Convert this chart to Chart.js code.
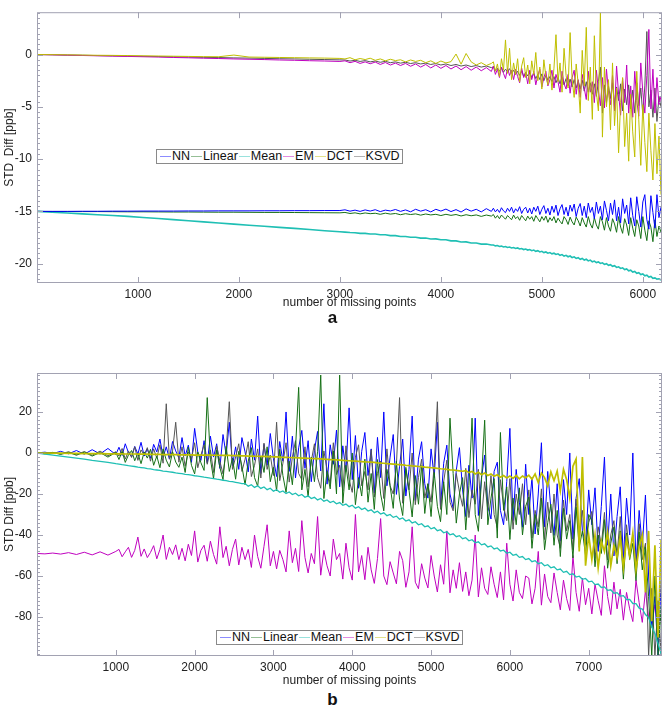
<!DOCTYPE html>
<html>
<head>
<meta charset="utf-8">
<script src="https://cdn.jsdelivr.net/npm/chart.js@4.4.0/dist/chart.umd.min.js"></script>
<style>
  body { margin:0; background:#fff; width:665px; height:710px; position:relative; overflow:hidden;
         font-family:"Liberation Sans", Arial, sans-serif; }
  .panel { position:absolute; left:0; width:665px; }
  #boxA { top:0; height:312px; }
  #boxB { top:340px; height:350px; }
  .tag { position:absolute; left:0; width:665px; text-align:center; font-weight:bold; font-size:17px; line-height:20px; color:#111; }
  .legend { position:absolute; border:1px solid #8a8a8a; background:#fff; font-size:12.5px; line-height:13px;
            padding:0 2px; white-space:nowrap; color:#111; }
  .legend i { display:inline-block; width:11px; height:1px; vertical-align:middle; margin:0 1px 0 1px; }
</style>
</head>
<body>
<div class="panel" id="boxA"><canvas id="chartA"></canvas></div>
<div class="panel" id="boxB"><canvas id="chartB"></canvas></div>
<div class="legend" id="legA" style="left:156px;top:149px"></div>
<div class="legend" id="legB" style="left:216px;top:630px"></div>
<div class="tag" style="top:308px">a</div>
<div class="tag" style="top:690px">b</div>
<script>
// series names and colours (same for both panels)
const names = ['NN', 'Linear', 'Mean', 'EM', 'DCT', 'KSVD'];
const colors = ['#0000ff', '#167016', '#1fbfb4', '#bf00bf', '#bfbf00', '#555555'];

// tick labels
const xTicksA = [1000, 2000, 3000, 4000, 5000, 6000];
const yTicksA = [0, -5, -10, -15, -20];
const xTicksB = [1000, 2000, 3000, 4000, 5000, 6000, 7000];
const yTicksB = [20, 0, -20, -40, -60, -80];

// ---- panel a : number of missing points
const xsA = [0,150,300,450,600,750,900,1050,1200,1350,1500,1650,1800,1950,2100,2250,2400,2550,2700,2850,3000,
  3050,3100,3150,3200,3250,3300,3350,3400,3450,3500,
  3550,3600,3650,3700,3750,3800,3850,3900,3950,4000,
  4050,4100,4150,4200,4250,4300,4350,4400,4450,4500,
  4520,4540,4560,4580,4600,4620,4640,4660,4680,4700,
  4720,4740,4760,4780,4800,4820,4840,4860,4880,4900,
  4920,4940,4960,4980,5000,5020,5040,5060,5080,5100,
  5120,5140,5160,5180,5200,5220,5240,5260,5280,5300,
  5320,5340,5360,5380,5400,5420,5440,5460,5480,5500,
  5520,5540,5560,5580,5600,5620,5640,5660,5680,5700,
  5720,5740,5760,5780,5800,5820,5840,5860,5880,5900,
  5920,5940,5960,5980,6000,6020,6040,6060,6080,6100,
  6120,6140,6160,6180];

const aNN = [-15,-15,-15,-14.99,-14.99,-14.98,-14.98,-14.97,-14.97,-14.97,-14.96,-14.96,-14.95,-14.95,-14.95,-14.94,-14.94,-14.93,-14.93,-14.92,-14.92,
  -14.85,-14.98,-14.88,-15.0,-14.86,-14.97,-14.84,-15.02,-14.88,-14.96,
  -14.82,-15.0,-14.86,-15.04,-14.8,-14.98,-14.84,-15.05,-14.8,-14.97,
  -14.78,-15.02,-14.83,-15.06,-14.76,-14.98,-14.8,-15.05,-14.74,-15.0,
  -14.7,-15.05,-14.8,-15.1,-14.65,-14.95,-15.12,-14.7,-15.0,-14.6,
  -15.15,-14.75,-15.0,-14.55,-15.2,-14.8,-14.6,-15.15,-14.7,-15.25,
  -14.6,-15.0,-14.5,-15.3,-14.8,-14.45,-15.2,-14.7,-15.35,-14.5,
  -15.1,-14.4,-15.4,-14.75,-14.35,-15.3,-14.6,-15.45,-14.4,-15.0,
  -14.3,-15.5,-14.7,-14.25,-15.4,-14.5,-15.6,-14.2,-15.1,-14.6,
  -15.7,-14.1,-15.2,-14.5,-15.8,-14.0,-14.9,-15.9,-14.2,-15.3,
  -13.9,-15.9,-14.6,-16.1,-13.8,-15.2,-14.4,-16.2,-13.7,-15.4,
  -16.4,-13.6,-15.0,-16.5,-14.1,-13.4,-15.8,-16.7,-13.5,-15.1,
  -16.6,-13.4,-15.6,-14.6];
const aLinear = [-15,-15.01,-15.01,-15.02,-15.02,-15.03,-15.04,-15.04,-15.05,-15.06,-15.06,-15.07,-15.08,-15.08,-15.09,-15.1,-15.1,-15.11,-15.12,-15.13,-15.14,
  -15.1,-15.2,-15.14,-15.24,-15.15,-15.22,-15.18,-15.28,-15.17,-15.26,
  -15.2,-15.32,-15.22,-15.3,-15.24,-15.36,-15.25,-15.34,-15.28,-15.4,
  -15.28,-15.38,-15.3,-15.44,-15.32,-15.42,-15.34,-15.48,-15.35,-15.45,
  -15.3,-15.65,-15.4,-15.7,-15.35,-15.55,-15.75,-15.4,-15.6,-15.8,
  -15.35,-15.7,-15.5,-15.85,-15.4,-15.65,-15.9,-15.45,-15.75,-15.5,
  -15.95,-15.4,-15.7,-16.0,-15.5,-15.85,-15.45,-16.05,-15.6,-15.9,
  -15.5,-16.1,-15.65,-15.95,-16.2,-15.5,-15.8,-16.25,-15.55,-16.0,
  -16.3,-15.55,-15.9,-16.4,-15.6,-16.1,-16.5,-15.5,-16.2,-16.6,
  -15.6,-16.3,-16.7,-15.5,-16.0,-16.8,-15.6,-16.4,-16.9,-15.7,
  -16.2,-17.0,-15.5,-16.5,-17.1,-15.7,-16.3,-17.3,-15.6,-16.6,
  -17.4,-15.8,-16.4,-17.6,-15.5,-16.8,-17.8,-15.9,-16.5,-17.9,
  -15.8,-17.4,-16.4,-17.0];
const aMean = [-15,-15.08,-15.16,-15.24,-15.32,-15.4,-15.48,-15.58,-15.68,-15.79,-15.9,-16.0,-16.11,-16.22,-16.32,-16.42,-16.53,-16.63,-16.74,-16.85,-16.95,
  -16.98,-17.02,-17.04,-17.1,-17.1,-17.17,-17.17,-17.24,-17.24,-17.32,
  -17.32,-17.4,-17.4,-17.48,-17.47,-17.56,-17.55,-17.64,-17.63,-17.72,
  -17.72,-17.82,-17.82,-17.93,-17.92,-18.03,-18.02,-18.13,-18.12,-18.22,
  -18.22,-18.3,-18.27,-18.36,-18.32,-18.4,-18.36,-18.45,-18.41,-18.5,
  -18.46,-18.55,-18.5,-18.6,-18.55,-18.65,-18.6,-18.7,-18.65,-18.76,
  -18.7,-18.82,-18.76,-18.88,-18.82,-18.94,-18.88,-19.0,-18.94,-19.06,
  -19.0,-19.12,-19.06,-19.2,-19.13,-19.27,-19.2,-19.34,-19.27,-19.42,
  -19.35,-19.5,-19.43,-19.58,-19.5,-19.66,-19.58,-19.74,-19.66,-19.82,
  -19.75,-19.9,-19.83,-19.98,-19.92,-20.07,-20.0,-20.16,-20.1,-20.26,
  -20.2,-20.36,-20.3,-20.46,-20.4,-20.57,-20.5,-20.68,-20.62,-20.8,
  -20.74,-20.92,-20.86,-21.04,-20.98,-21.16,-21.1,-21.28,-21.22,-21.4,
  -21.36,-21.48,-21.45,-21.56];
const aEM = [0,-0.03,-0.06,-0.09,-0.12,-0.15,-0.18,-0.21,-0.24,-0.28,-0.31,-0.35,-0.38,-0.42,-0.45,-0.48,-0.52,-0.55,-0.59,-0.62,-0.66,
  -0.6,-0.78,-0.65,-0.85,-0.7,-0.88,-0.72,-0.95,-0.76,-1.0,
  -0.82,-1.05,-0.85,-1.12,-0.9,-1.2,-0.95,-1.28,-1.0,-1.32,
  -1.05,-1.38,-1.1,-1.45,-1.15,-1.5,-1.2,-1.55,-1.25,-1.62,
  -1.1,-1.9,-1.4,-2.2,-1.2,-1.8,-2.3,-1.3,-2.0,-1.5,
  -2.4,-1.4,-2.1,-2.7,-1.3,-2.2,-1.7,-2.8,-1.5,-2.4,
  -1.6,-2.9,-2.0,-1.4,-3.1,-2.2,-1.6,-3.0,-2.4,-1.5,
  -3.2,-1.9,-2.6,-3.6,-1.6,-2.8,-3.3,-1.9,-3.7,-2.2,
  -1.5,-3.8,-2.4,-4.1,-1.9,-3.2,-4.3,-1.6,-3.6,-2.6,
  -4.6,-1.5,-3.4,-4.9,-2.2,-5.1,-1.4,-3.6,-4.8,-2.0,
  -5.4,-1.1,-3.8,-5.8,-2.3,-4.6,-1.0,-5.6,-3.0,-6.0,
  -1.6,-4.4,-5.9,-0.8,-3.6,-5.6,-2.0,2.4,-5.2,-1.4,
  -5.6,-2.2,-4.8,-4.0];
const aDCT = [0,-0.01,-0.03,-0.05,-0.07,-0.08,-0.1,-0.12,-0.14,-0.16,-0.18,-0.2,-0.21,-0.05,-0.24,-0.26,-0.28,-0.3,-0.32,-0.34,-0.37,
  -0.42,-0.3,-0.5,-0.38,-0.48,-0.35,-0.55,-0.42,-0.6,-0.45,
  -0.58,-0.5,-0.7,-0.52,-0.66,-0.55,-0.78,-0.6,-0.85,-0.62,
  -0.8,-0.68,0.05,-0.92,0.1,-0.7,-1.0,-0.78,-1.05,-0.85,
  -0.7,-1.6,-0.9,-2.1,-0.4,-1.5,1.4,-1.8,0.6,-2.4,
  -0.8,-1.9,-0.4,-2.6,-1.1,-0.3,-2.2,-1.0,-2.8,-0.6,
  -1.9,0.2,-2.5,-1.2,-3.3,-0.5,-2.1,-2.9,-0.9,-3.4,
  -1.3,1.9,-2.6,-0.8,-3.6,0.6,-2.0,-3.2,2.1,-2.4,
  -4.1,-0.9,-2.8,-5.6,0.4,-3.0,2.6,-4.4,-1.2,-6.2,
  1.8,-3.6,-5.4,4.0,-7.9,-1.2,-5.0,-2.4,-7.2,-0.8,
  -6.8,-3.2,-9.4,-4.6,-2.2,-8.8,-5.6,-10.2,-3.8,-7.4,
  -9.8,-1.6,-6.2,-10.6,-4.8,-8.4,-11.2,-5.6,-9.2,-12.0,
  -6.6,-11.4,-7.8,-13.4];
const aKSVD = [0,-0.02,-0.05,-0.07,-0.1,-0.12,-0.14,-0.17,-0.19,-0.22,-0.24,-0.27,-0.29,-0.32,-0.34,-0.37,-0.4,-0.42,-0.45,-0.48,-0.51,
  -0.52,-0.62,-0.55,-0.66,-0.58,-0.7,-0.62,-0.74,-0.65,-0.78,
  -0.7,-0.82,-0.74,-0.86,-0.78,-0.9,-0.82,-0.95,-0.86,-1.0,
  -0.9,-1.05,-0.95,-1.1,-1.0,-1.15,-1.05,-1.2,-1.1,-1.25,
  -1.2,-1.5,-1.3,-1.6,-1.25,-1.7,-1.4,-1.65,-1.35,-1.8,
  -1.5,-1.9,-1.6,-2.0,-1.55,-2.1,-1.7,-2.05,-1.75,-2.2,
  -1.8,-2.3,-1.9,-2.4,-1.85,-2.5,-2.0,-2.45,-2.1,-2.6,
  -2.1,-2.7,-2.2,-2.8,-2.15,-2.9,-2.3,-3.0,-2.35,-3.1,
  -2.4,-3.2,-2.5,-3.3,-2.45,-3.5,-2.6,-3.6,-2.7,-3.8,
  -2.8,-4.0,-2.6,-1.2,-5.6,-2.9,-4.6,-3.0,-4.2,-2.7,
  -5.0,-3.1,-4.4,-2.8,-5.4,-3.3,-4.8,-2.9,-5.2,-3.4,
  -5.6,-2.7,-4.9,-3.2,-5.8,-3.0,2.2,-5.0,-3.4,-6.0,
  -3.2,-6.4,-4.0,-5.0];

// ---- panel b : number of missing points
const xsB = [0,100,200,300,400,500,600,700,800,900,1000,
  1040,1080,1120,1160,1200,1240,1280,1320,1360,1400,
  1440,1480,1520,1560,1600,1640,1680,1720,1760,1800,
  1840,1880,1920,1960,2000,2040,2080,2120,2160,2200,
  2240,2280,2320,2360,2400,2440,2480,2520,2560,2600,
  2640,2680,2720,2760,2800,2840,2880,2920,2960,3000,
  3040,3080,3120,3160,3200,3240,3280,3320,3360,3400,
  3440,3480,3520,3560,3600,3640,3680,3720,3760,3800,
  3840,3880,3920,3960,4000,4040,4080,4120,4160,4200,
  4240,4280,4320,4360,4400,4440,4480,4520,4560,4600,
  4640,4680,4720,4760,4800,4840,4880,4920,4960,5000,
  5040,5080,5120,5160,5200,5240,5280,5320,5360,5400,
  5440,5480,5520,5560,5600,5640,5680,5720,5760,5800,
  5840,5880,5920,5960,6000,6040,6080,6120,6160,6200,
  6240,6280,6320,6360,6400,6440,6480,6520,6560,6600,
  6640,6680,6720,6760,6800,6840,6880,6920,6960,7000,
  7040,7080,7120,7160,7200,7240,7280,7320,7360,7400,
  7440,7480,7520,7560,7600,7640,7680,7720,7760,7800,
  7840,7880,7920,
  7930];

const bNN = [0,0.4,-0.3,0.8,-0.4,1.2,-0.6,1.6,-0.5,2.2,-0.8,
  2.8,-1.2,4.5,0.2,-1.8,3.2,-0.5,5.2,-1.5,2.0,
  -2.6,4.2,0.5,6.8,-2.2,3.0,-3.0,5.6,1.0,-2.4,
  7.5,-1.5,3.8,-4.6,12.0,0.4,-3.6,6.0,-4.8,8.2,
  -2.0,4.5,-7.5,9.0,-1.0,15.0,-6.2,3.0,-8.0,7.5,
  0.5,-9.2,6.8,-3.5,18.0,-10.0,4.2,-6.0,9.5,-2.8,
  -11.5,5.6,-4.0,20.0,-9.0,8.2,-12.2,2.5,11.0,-7.5,
  6.0,-14.0,1.2,10.5,-8.8,24.0,-15.2,4.0,-5.5,11.2,
  -16.5,3.5,-9.0,22.0,-13.0,8.5,-17.2,0.8,10.0,-11.0,
  2.0,-19.5,7.6,-12.0,20.0,-16.0,-2.0,9.0,-20.2,-6.5,
  6.8,-21.0,-8.0,18.0,-23.2,-3.0,5.5,-15.0,-22.0,2.0,
  -12.0,15.0,-26.5,-5.0,3.8,-20.0,-27.0,-8.5,2.6,-18.0,
  -31.0,-6.0,-22.0,17.0,-30.5,-12.0,-1.0,-26.0,-32.2,-9.0,
  -4.5,-28.0,-35.0,-14.0,12.0,-33.0,-8.0,-24.0,-36.2,-5.5,
  -30.0,-12.0,-39.5,-20.0,5.0,-36.0,-9.0,-27.0,-40.2,-15.0,
  -43.0,-13.0,-30.0,0.0,-42.0,-22.0,-12.5,-38.0,-44.5,-18.0,
  -35.0,-17.0,-48.0,-26.0,-2.0,-45.0,-20.0,-50.2,-31.0,-16.5,
  -52.0,-22.0,-40.0,0.0,-55.5,-28.0,-46.0,-20.5,-60.0,-85.0,
  -70.0,-99.0,-62.0,
  -95];
const bLinear = [0,-0.4,0.2,-0.7,0.3,-1.1,0.4,-1.5,0.2,-2.0,0.3,
  -3.2,0.8,-4.6,-1.0,1.2,-3.8,-0.2,-5.2,0.5,-2.5,
  1.8,-6.0,-1.5,-7.2,2.0,-3.5,-6.8,0.6,-4.4,-7.0,
  -2.0,-9.5,2.8,-6.0,-10.2,0.5,-4.8,-8.5,27.0,-3.0,
  -12.5,1.5,-7.0,-13.0,3.2,-9.0,-2.5,-12.8,0.8,-6.5,
  -15.5,-4.0,2.6,-12.0,-16.2,-1.5,-9.5,3.0,-14.0,-7.0,
  -18.5,1.8,-11.0,-19.2,-4.0,-15.5,2.2,32.0,-18.0,-8.0,
  -21.5,-2.0,-14.0,0.8,38.0,-22.2,-9.0,-17.5,1.0,-20.0,
  38.0,-24.5,-6.0,-18.0,0.0,-25.2,-12.0,-21.0,-3.0,-24.0,
  -10.0,-27.5,-3.2,-20.0,-28.2,-8.0,-16.0,-27.0,-4.0,-22.5,
  -30.5,-7.0,-18.0,-31.2,-11.0,-25.0,-6.2,-29.5,-15.0,-31.0,
  -9.5,-26.0,-33.5,-14.0,-30.0,17.0,-10.0,-34.2,-20.0,-12.0,
  -37.5,-16.0,17.0,-30.0,-38.2,-13.0,16.0,-35.0,-22.0,-12.5,
  -41.5,10.0,-28.0,-16.5,-42.2,-22.0,-35.0,-17.0,-40.0,-26.0,
  -21.5,-46.5,-30.0,-40.0,-22.0,-47.2,-34.0,-25.0,-45.0,-28.0,
  -50.5,-27.0,-42.0,-33.0,-51.2,-26.5,-46.0,-38.0,-50.0,-30.0,
  -33.0,-55.5,-40.0,-49.0,-32.5,-56.2,-44.0,-36.0,-54.0,-38.0,
  -61.5,-39.0,-52.0,-44.0,-62.2,-38.5,-57.0,-46.0,-70.0,-99.0,
  -60.0,-99.0,-75.0,
  -99];
const bMean = [0,-0.5,-1.0,-1.5,-2.0,-2.5,-3.0,-3.6,-4.1,-4.6,-5.2,
  -5.4,-5.7,-5.9,-6.2,-6.4,-6.6,-6.9,-7.1,-7.3,-7.6,
  -7.8,-8.1,-8.3,-8.5,-8.8,-9.0,-9.2,-9.4,-9.7,-9.9,
  -10.1,-10.4,-10.6,-10.8,-11.1,-11.3,-11.5,-11.8,-12.0,-12.3,
  -12.5,-12.8,-13.0,-13.3,-13.5,-13.8,-14.0,-14.3,-14.6,-14.9,
  -14.9,-16.2,-15.5,-16.8,-16.0,-17.3,-16.6,-17.9,-17.2,-18.6,
  -17.9,-19.2,-18.5,-19.8,-19.0,-20.3,-19.6,-20.9,-20.2,-21.6,
  -20.9,-22.2,-21.6,-22.9,-22.2,-23.5,-22.9,-24.2,-23.5,-24.8,
  -24.2,-25.5,-24.9,-26.2,-25.5,-26.9,-26.2,-27.6,-26.9,-28.3,
  -27.7,-29.1,-28.4,-29.8,-29.2,-30.6,-30.0,-31.4,-30.8,-32.3,
  -31.7,-33.2,-32.6,-34.1,-33.5,-35.0,-34.5,-36.0,-35.5,-37.0,
  -36.4,-37.9,-37.4,-38.9,-38.4,-39.9,-39.4,-40.8,-40.3,-41.8,
  -41.3,-42.8,-42.3,-43.8,-43.3,-44.8,-44.3,-45.8,-45.3,-46.8,
  -46.3,-47.8,-47.4,-48.9,-48.4,-49.9,-49.4,-50.9,-50.5,-52.0,
  -51.5,-53.0,-52.5,-54.0,-53.5,-55.0,-54.5,-56.0,-55.5,-57.0,
  -56.6,-58.2,-57.7,-59.3,-58.9,-60.5,-60.1,-61.6,-61.2,-62.8,
  -62.5,-64.2,-63.9,-65.6,-65.3,-67.0,-66.7,-68.4,-68.1,-69.8,
  -69.6,-71.5,-71.4,-73.4,-73.5,-75.7,-76.1,-78.8,-80.3,-84.8,
  -88.0,-93.0,-98.0,
  -100];
const bEM = [-49,-49.2,-48.8,-49.3,-48.6,-49.5,-48.4,-49.7,-48.2,-49.8,-48.0,
  -47.0,-50.6,-48.2,-46.0,-50.9,-47.5,-41.0,-50.4,-46.8,-51.0,
  -48.5,-45.2,-51.6,-47.0,-40.0,-51.9,-46.0,-49.5,-44.8,-52.0,
  -46.5,-52.6,-44.5,-50.0,-38.0,-53.2,-47.5,-45.0,-52.8,-43.0,
  -49.5,-54.2,-36.0,-51.0,-45.5,-55.0,-47.0,-42.0,-54.6,-46.0,
  -52.0,-47.0,-55.8,-40.0,-50.5,-56.2,-45.5,-35.0,-55.0,-48.0,
  -56.5,-47.5,-52.0,-58.0,-38.0,-53.5,-46.5,-57.8,-33.0,-51.0,
  -58.5,-49.0,-54.0,-31.0,-59.6,-47.5,-55.0,-60.0,-42.0,-52.0,
  -49.0,-61.5,-44.0,-56.0,-62.0,-30.0,-58.0,-50.0,-61.8,-46.0,
  -57.0,-63.6,-51.5,-32.0,-60.0,-64.2,-53.0,-58.5,-63.8,-48.0,
  -52.5,-65.5,-58.0,-36.0,-63.0,-66.2,-54.0,-61.0,-65.8,-50.0,
  -60.0,-67.8,-54.5,-64.0,-38.0,-68.2,-57.0,-66.0,-53.5,-67.5,
  -58.0,-69.6,-62.0,-40.0,-70.2,-56.0,-66.0,-69.0,-55.5,-64.0,
  -70.5,-58.0,-71.6,-44.0,-64.0,-72.2,-57.0,-68.0,-71.0,-60.0,
  -61.0,-73.6,-66.0,-48.0,-74.2,-59.0,-70.0,-73.0,-58.5,-68.0,
  -76.5,-62.0,-71.0,-76.8,-50.0,-68.0,-77.2,-61.0,-74.0,-66.0,
  -78.5,-64.0,-72.0,-79.2,-55.0,-70.0,-78.8,-63.0,-76.0,-66.5,
  -81.5,-68.0,-76.0,-82.2,-62.0,-73.0,-82.6,-67.0,-80.0,-84.0,
  -74.0,-86.0,-80.0,
  -84];
const bDCT = [0,0,-0.1,-0.1,-0.2,-0.2,-0.3,-0.3,-0.3,-0.4,-0.4,
  -0.4,-0.4,-0.5,-0.5,-0.5,-0.5,-0.6,-0.6,-0.6,-0.6,
  -0.7,-0.7,-0.7,-0.7,-0.8,-0.8,-0.8,-0.8,-0.8,-0.9,
  -0.9,-0.9,-0.9,-0.9,-1.0,-1.0,-1.0,-1.0,-1.0,-1.0,
  -1.1,-1.1,-1.1,-1.2,-1.2,-1.2,-1.3,-1.3,-1.3,-1.4,
  -1.4,-1.5,-1.5,-1.6,-1.6,-1.7,-1.7,-1.8,-1.8,-1.9,
  -1.9,-2.0,-2.1,-2.1,-2.2,-2.3,-2.3,-2.4,-2.5,-2.5,
  -2.6,-2.7,-2.8,-2.8,-2.9,-3.0,-3.1,-3.2,-3.3,-3.4,
  -3.5,-3.6,-3.7,-3.8,-3.9,-4.0,-4.1,-4.2,-4.3,-4.4,
  -4.5,-4.6,-4.8,-4.9,-5.0,-5.2,-5.3,-5.4,-5.6,-5.7,
  -5.8,-6.0,-6.1,-6.3,-6.4,-6.6,-6.7,-6.9,-7.0,-7.2,
  -7.3,-7.5,-7.7,-7.8,-8.0,-8.2,-8.3,-8.5,-8.7,-8.9,
  -8.6,-9.6,-9.0,-10.2,-9.4,-10.6,-9.8,-11.0,-10.2,-11.4,
  -10.6,-11.8,-11.0,-12.2,-11.2,-12.4,-11.0,-12.6,-11.2,-12.2,
  -10.8,-12.8,-10.2,-14.5,-9.8,-12.0,-16.0,-9.2,-13.5,-8.8,
  -18.5,-8.0,-13.0,-22.0,-6.5,-3.0,-48.0,-2.0,-55.0,-40.0,
  -52.0,-40.0,-56.0,-43.0,-48.0,-38.5,-55.0,-45.0,-51.0,-41.0,
  -56.0,-42.0,-50.0,-39.0,-57.0,-46.0,-40.0,-68.0,-38.0,-82.0,
  -45.0,-90.0,-42.0,
  -60];
const bKSVD = [0,-0.2,0.3,-0.5,0.6,-0.8,0.7,-1.1,0.9,-1.4,0.6,
  -1.5,2.2,-3.0,1.0,-2.2,3.0,-3.6,1.5,-1.0,2.6,
  -4.0,2.0,-2.5,4.0,-5.0,24.0,-3.0,1.0,15.0,-4.5,
  3.0,-6.5,0.5,-3.0,5.0,-7.2,-1.0,4.0,-5.5,1.5,
  -9.5,3.5,-4.0,-10.2,1.0,25.0,-8.0,-2.0,4.5,-9.0,
  -3.0,5.5,-11.5,-6.0,2.0,-12.2,4.8,-8.0,-1.0,-11.0,
  15.0,-13.5,-5.0,5.0,-14.2,-2.0,6.0,-10.0,-13.0,3.0,
  -16.5,-4.0,4.5,-12.0,-17.2,1.0,-8.0,-15.0,5.0,-10.5,
  -6.0,-18.5,3.5,-13.0,-19.2,-2.0,4.0,-16.0,-9.0,-18.0,
  1.5,-21.5,-10.0,-4.0,-22.2,2.0,-16.0,-20.0,-6.0,27.0,
  -24.5,-8.0,-18.0,0.0,-25.2,-12.0,-3.0,-22.0,-15.0,-24.0,
  -6.0,25.0,-27.5,-14.0,-3.5,-24.0,-28.2,-10.0,-19.0,-26.0,
  -7.5,-31.5,-18.0,-25.0,-8.0,-32.2,-14.0,-28.0,-11.0,-30.0,
  -36.5,-13.0,-26.0,-33.0,-12.5,-37.2,-20.0,-30.0,-15.0,-35.0,
  -18.0,-41.5,-28.0,-36.0,-17.5,-42.2,-24.0,-39.0,-20.0,-40.0,
  -46.5,-23.0,-38.0,-30.0,-47.2,-22.5,-42.0,-28.0,-45.0,-34.0,
  -28.5,-51.5,-36.0,-45.0,-29.0,-52.2,-40.0,-33.0,-50.0,-31.0,
  -57.5,-35.0,-49.0,-40.0,-58.2,-34.5,-52.0,-44.0,-99.0,-66.0,
  -99.0,-72.0,-99.0,
  -88];

// box frame with inward ticks on all four sides
const framePlugin = {
  id: 'frame',
  afterDatasetsDraw(chart, args, o) {
    const { ctx, chartArea: a } = chart;
    const x = chart.scales.x, y = chart.scales.y;
    ctx.save();
    ctx.strokeStyle = '#a2a2b2';
    ctx.lineWidth = 1;
    ctx.beginPath();
    o.xTicks.forEach(v => {
      const px = Math.round(x.getPixelForValue(v)) + 0.5;
      ctx.moveTo(px, a.top); ctx.lineTo(px, a.top + 6);
      ctx.moveTo(px, a.bottom); ctx.lineTo(px, a.bottom - 6);
    });
    for (let v = Math.ceil(y.min / o.yMinor) * o.yMinor; v <= y.max; v += o.yMinor) {
      const py = Math.round(y.getPixelForValue(v)) + 0.5;
      const len = o.yTicks.includes(v) ? 6 : 3;
      ctx.moveTo(a.left, py); ctx.lineTo(a.left + len, py);
      ctx.moveTo(a.right, py); ctx.lineTo(a.right - len, py);
    }
    ctx.stroke();
    ctx.strokeRect(a.left + 0.5, a.top + 0.5, a.right - a.left - 1, a.bottom - a.top - 1);
    ctx.restore();
  }
};

function makePanel(id, xs, values, order, widths, cfg) {
  const datasets = names.map((name, i) => ({
    label: name,
    data: xs.map((x, j) => ({ x: x, y: values[i][j] })),
    borderColor: colors[i],
    borderWidth: widths[i],
    pointRadius: 0,
    order: order[i]
  }));
  const font = { family: '"Liberation Sans", Arial, sans-serif', size: 12 };
  return new Chart(document.getElementById(id), {
    type: 'line',
    data: { datasets },
    options: {
      responsive: true,
      maintainAspectRatio: false,
      animation: false,
      layout: { padding: { top: cfg.padTop, right: 3, left: 0, bottom: 0 } },
      plugins: {
        legend: { display: false },
        tooltip: { enabled: false },
        frame: { xTicks: cfg.xTicks, yTicks: cfg.yTicks, yMinor: cfg.yMinor }
      },
      scales: {
        x: {
          type: 'linear', min: 0, max: cfg.xMax,
          grid: { display: false, drawTicks: false },
          border: { display: false },
          afterBuildTicks: s => { s.ticks = cfg.xTicks.map(v => ({ value: v })); },
          ticks: { autoSkip: false, maxRotation: 0, padding: 4, color: '#222', font,
                   callback: v => String(v) },
          title: { display: true, text: 'number of missing points', color: '#222', font,
                   padding: { top: 0, bottom: 2 } },
          afterFit: s => { s.height = cfg.xAxisH; }
        },
        y: {
          min: cfg.yMin, max: cfg.yMax,
          grid: { display: false, drawTicks: false },
          border: { display: false },
          afterBuildTicks: s => { s.ticks = cfg.yTicks.map(v => ({ value: v })); },
          ticks: { autoSkip: false, padding: 5, color: '#222', font, callback: v => String(v) },
          title: { display: true, text: cfg.yTitle, color: '#222', font,
                   padding: { top: 2, bottom: 0 } },
          afterFit: s => { s.width = 37; }
        }
      }
    },
    plugins: [framePlugin]
  });
}

function makeLegend(id) {
  const box = document.getElementById(id);
  names.forEach((n, i) => {
    const line = document.createElement('i');
    line.style.background = colors[i];
    line.style.opacity = '0.45';
    box.appendChild(line);
    box.appendChild(document.createTextNode(n));
  });
}

makePanel('chartA', xsA, [aNN, aLinear, aMean, aEM, aDCT, aKSVD], [3, 4, 5, 1, 0, 2], [1, 1, 1.6, 1, 1, 1],
  { xMax: 6190, yMin: -21.85, yMax: 4.05, xTicks: xTicksA, yTicks: yTicksA, yMinor: 0.5,
    yTitle: 'STD  Diff [ppb]', padTop: 2, xAxisH: 29 });
makePanel('chartB', xsB, [bNN, bLinear, bMean, bEM, bDCT, bKSVD], [4, 2, 1, 5, 0, 3], [1, 1, 1.3, 1, 1.7, 1],
  { xMax: 7930, yMin: -99, yMax: 39, xTicks: xTicksB, yTicks: yTicksB, yMinor: 2,
    yTitle: 'STD Diff [ppb]', padTop: 33, xAxisH: 34 });
makeLegend('legA');
makeLegend('legB');
</script>
</body>
</html>
